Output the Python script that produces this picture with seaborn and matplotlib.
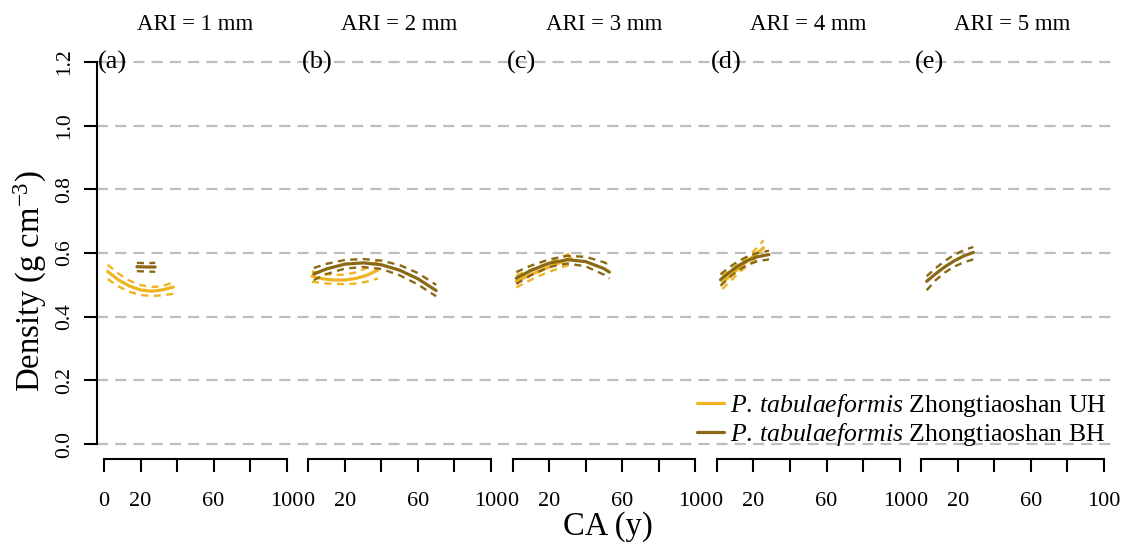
import numpy as np
import pandas as pd
import matplotlib
matplotlib.use("Agg")
import matplotlib.pyplot as plt
from matplotlib.lines import Line2D
import seaborn as sns

# ---- data -----------------------------------------------------------------
ari_titles = ["ARI = 1 mm", "ARI = 2 mm", "ARI = 3 mm", "ARI = 4 mm", "ARI = 5 mm"]
panel_tags = ["(a)", "(b)", "(c)", "(d)", "(e)"]
x_ticks = [0, 20, 40, 60, 80, 100]
x_tick_labels = ["0", "20", "", "60", "", "100"]
y_ticks = [0.0, 0.2, 0.4, 0.6, 0.8, 1.0, 1.2]
y_tick_labels = ["0.0", "0.2", "0.4", "0.6", "0.8", "1.0", "1.2"]
group_names = [r"$\it{P.\,tabulaeformis}$ Zhongtiaoshan UH",
               r"$\it{P.\,tabulaeformis}$ Zhongtiaoshan BH"]
group_colors = ["#EEB422", "#8B6914"]

# fitted density and confidence band, per panel and stand
a_uh_x = [2, 8, 14, 20, 26, 32, 38]
a_uh_fit = [0.542, 0.515, 0.496, 0.484, 0.480, 0.484, 0.493]
a_uh_hi = [0.563, 0.535, 0.513, 0.499, 0.493, 0.496, 0.508]
a_uh_lo = [0.518, 0.495, 0.478, 0.468, 0.465, 0.467, 0.472]

a_bh_x = [18, 23, 28]
a_bh_fit = [0.557, 0.556, 0.556]
a_bh_hi = [0.569, 0.568, 0.569]
a_bh_lo = [0.543, 0.542, 0.541]

b_uh_x = [2, 8, 14, 20, 26, 32, 38]
b_uh_fit = [0.527, 0.519, 0.515, 0.515, 0.520, 0.530, 0.546]
b_uh_hi = [0.542, 0.535, 0.531, 0.532, 0.539, 0.553, 0.574]
b_uh_lo = [0.510, 0.505, 0.503, 0.502, 0.504, 0.510, 0.520]

b_bh_x = [3, 10, 20, 30, 40, 50, 60, 70]
b_bh_fit = [0.534, 0.550, 0.565, 0.569, 0.563, 0.546, 0.519, 0.482]
b_bh_hi = [0.553, 0.566, 0.578, 0.581, 0.576, 0.562, 0.537, 0.500]
b_bh_lo = [0.515, 0.534, 0.551, 0.556, 0.550, 0.530, 0.501, 0.464]

c_uh_x = [2, 8, 14, 20, 26, 32]
c_uh_fit = [0.511, 0.527, 0.542, 0.556, 0.570, 0.584]
c_uh_hi = [0.530, 0.543, 0.556, 0.570, 0.585, 0.600]
c_uh_lo = [0.492, 0.510, 0.527, 0.541, 0.553, 0.565]

c_bh_x = [2, 10, 20, 30, 40, 50, 53]
c_bh_fit = [0.521, 0.545, 0.568, 0.579, 0.573, 0.551, 0.540]
c_bh_hi = [0.540, 0.560, 0.580, 0.591, 0.588, 0.571, 0.562]
c_bh_lo = [0.503, 0.530, 0.556, 0.567, 0.558, 0.532, 0.520]

d_uh_x = [3, 8, 13, 18, 23, 25.5]
d_uh_fit = [0.507, 0.532, 0.557, 0.581, 0.604, 0.616]
d_uh_hi = [0.528, 0.548, 0.570, 0.594, 0.622, 0.640]
d_uh_lo = [0.487, 0.515, 0.543, 0.566, 0.586, 0.595]

d_bh_x = [2, 7, 12, 17, 22, 28.5]
d_bh_fit = [0.516, 0.540, 0.561, 0.577, 0.588, 0.595]
d_bh_hi = [0.533, 0.556, 0.575, 0.590, 0.600, 0.607]
d_bh_lo = [0.497, 0.524, 0.547, 0.563, 0.574, 0.580]

e_bh_x = [3, 8, 13, 18, 23, 28.5]
e_bh_fit = [0.511, 0.535, 0.557, 0.575, 0.590, 0.602]
e_bh_hi = [0.527, 0.553, 0.575, 0.594, 0.608, 0.619]
e_bh_lo = [0.483, 0.515, 0.539, 0.557, 0.570, 0.580]

curves = [
    (0, 0, a_uh_x, a_uh_fit, a_uh_lo, a_uh_hi),
    (0, 1, a_bh_x, a_bh_fit, a_bh_lo, a_bh_hi),
    (1, 0, b_uh_x, b_uh_fit, b_uh_lo, b_uh_hi),
    (1, 1, b_bh_x, b_bh_fit, b_bh_lo, b_bh_hi),
    (2, 0, c_uh_x, c_uh_fit, c_uh_lo, c_uh_hi),
    (2, 1, c_bh_x, c_bh_fit, c_bh_lo, c_bh_hi),
    (3, 0, d_uh_x, d_uh_fit, d_uh_lo, d_uh_hi),
    (3, 1, d_bh_x, d_bh_fit, d_bh_lo, d_bh_hi),
    (4, 1, e_bh_x, e_bh_fit, e_bh_lo, e_bh_hi),
]

rows = []
for p, g, xs, fit, lo, hi in curves:
    for part, ys in (("fit", fit), ("lo", lo), ("hi", hi)):
        for xv, yv in zip(xs, ys):
            rows.append({"panel": p, "group": g, "part": part, "CA": xv, "density": yv})
df = pd.DataFrame(rows)

# ---- style ----------------------------------------------------------------
sns.set_style("ticks")
plt.rcParams["font.family"] = ["Liberation Serif", "DejaVu Serif"]
plt.rcParams["mathtext.fontset"] = "custom"
plt.rcParams["mathtext.rm"] = "Liberation Serif"
plt.rcParams["mathtext.it"] = "Liberation Serif:italic"
plt.rcParams["axes.linewidth"] = 1.5
plt.rcParams["axes.edgecolor"] = "black"
plt.rcParams["xtick.color"] = "black"
plt.rcParams["ytick.color"] = "black"
plt.rcParams["text.color"] = "black"

W, H = 1123, 545
fig = plt.figure(figsize=(W / 100, H / 100), dpi=100)

ylim = (-0.048, 1.248)
xlim = (-4, 104)
panel_left0 = 96.7
panel_step = 204.3
panel_w = 197.3
top_px, bot_px = 46.7, 459.3
fb = (H - bot_px) / H
fh = (bot_px - top_px) / H

# shared dashed gridlines running across all panels
bg = fig.add_axes([panel_left0 / W, fb, (4 * panel_step + panel_w) / W, fh])
bg.set_ylim(*ylim)
bg.set_xlim(0, 1)
bg.axis("off")
for yv in y_ticks:
    bg.axhline(yv, color="#BEBEBE", lw=1.6, ls=(0, (5, 3.2)), zorder=0)

tick_len = 9.5
for i in range(5):
    left = panel_left0 + i * panel_step
    ax = fig.add_axes([left / W, fb, panel_w / W, fh])
    ax.set_facecolor("none")
    ax.set_xlim(*xlim)
    ax.set_ylim(*ylim)

    sub = df[df["panel"] == i]
    for g in sorted(sub["group"].unique()):
        sg = sub[sub["group"] == g]
        col = group_colors[g]
        for part in ("lo", "hi"):
            sp = sg[sg["part"] == part]
            sns.lineplot(data=sp, x="CA", y="density", ax=ax, color=col,
                         lw=1.7, sort=False, estimator=None,
                         linestyle=(0, (3, 2.3)))
        sp = sg[sg["part"] == "fit"]
        sns.lineplot(data=sp, x="CA", y="density", ax=ax, color=col,
                     lw=2.3, sort=False, estimator=None)

    for s in ("top", "right"):
        ax.spines[s].set_visible(False)
    ax.spines["bottom"].set_bounds(0, 100)
    ax.set_xticks(x_ticks)
    ax.set_xticklabels(x_tick_labels, fontsize=16)
    ax.tick_params(axis="x", direction="out", length=tick_len, width=1.5, pad=14)

    if i == 0:
        ax.spines["left"].set_bounds(0, 1.2)
        ax.set_yticks(y_ticks)
        ax.set_yticklabels(y_tick_labels, fontsize=15.5, rotation=90, va="center")
        ax.tick_params(axis="y", direction="out", length=tick_len, width=1.5, pad=7)
    else:
        ax.spines["left"].set_visible(False)
        ax.set_yticks([])

    ax.set_xlabel("")
    ax.set_ylabel("")
    ax.text(-3.3, 1.2, panel_tags[i], fontsize=19, ha="left", va="center")
    fig.text((left + panel_w / 2) / W, (H - 25) / H, ari_titles[i],
             fontsize=16.5, ha="center", va="center")

fig.text(30 / W, (H - 281) / H, r"Density (g cm$^{-3}$)", fontsize=23.5,
         rotation=90, ha="center", va="center")
fig.text(608 / W, (H - 527) / H, "CA (y)", fontsize=23.5, ha="center", va="center")

handles = [Line2D([], [], color=c, lw=2.3) for c in group_colors]
fig.legend(handles, group_names, loc="center right",
           bbox_to_anchor=(1106 / W, (H - 420) / H), frameon=False,
           fontsize=18.5, handlelength=1.05, handletextpad=0.2,
           labelspacing=0.1, borderaxespad=0, borderpad=0)

fig.savefig("out.png", dpi=100)
